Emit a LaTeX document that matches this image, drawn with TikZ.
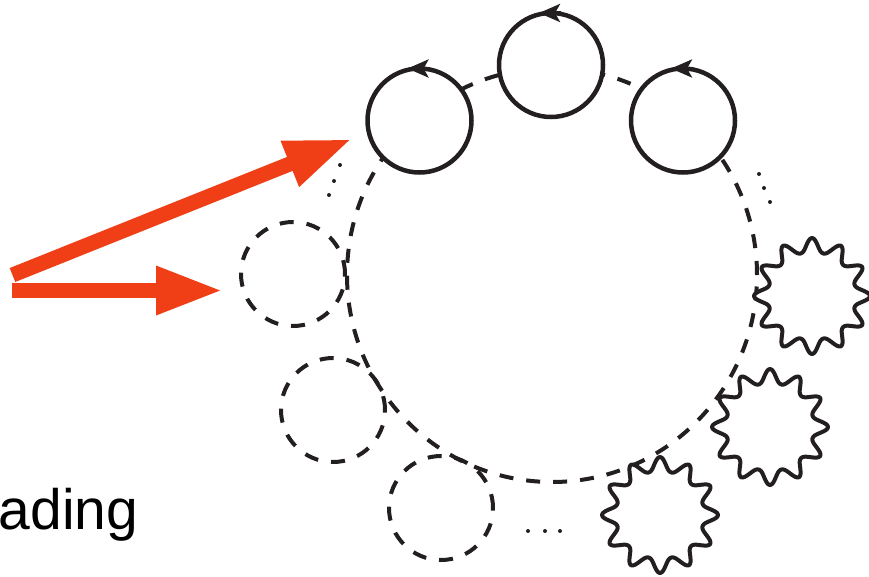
\documentclass[tikz,border=0pt]{standalone}
\usepackage{fontspec}
\setmainfont{Liberation Sans}
\usetikzlibrary{arrows.meta}
\definecolor{ink}{HTML}{231F20}
\definecolor{redarrow}{RGB}{240,62,22}
\begin{document}
\begin{tikzpicture}[x=1pt,y=1pt,
  dashline/.style={draw=ink, line width=4pt, dash pattern=on 14pt off 13pt},
  solidc/.style={circle, draw=ink, line width=4.5pt, fill=white, minimum size=104pt, inner sep=0pt, outer sep=0pt},
  ghostc/.style={circle, dashline, minimum size=104pt, inner sep=0pt, outer sep=0pt},
  spin/.style={draw=ink, line width=3.5pt, -{Stealth[length=21pt, width=18pt, inset=5pt]}},
  bigarrow/.style={draw=redarrow, line width=15pt, -{Triangle[length=67pt, width=45pt]}},
  dotmark/.style={circle, fill=ink, minimum size=4pt, inner sep=0pt},
  wstar/.pic={\draw[ink, line width=4pt, fill=white, line join=round]
     plot[domain=0:360, samples=241]
     (\x:{44+14*(0.5*(1+cos(12*(\x-90)))/2+0.5*((1+cos(12*(\x-90)))/2)^2)}) -- cycle;}
]
\useasboundingbox (0,0) rectangle (869,-576);

% big dashed ring
\node[draw=none, inner sep=0pt] (ring) at (552,-275) {};
\draw[dashline] (ring) ellipse [x radius=205, y radius=207];

% dashed (empty) circles
\node[ghostc] (g1) at (293,-274) {};
\node[ghostc] (g2) at (333,-410) {};
\node[ghostc] (g3) at (441,-508) {};

% wavy stars
\pic (st1) at (812,-296) {wstar};
\pic (st2) at (770,-427) {wstar};
\pic (st3) at (660,-515) {wstar};

% solid spinning circles
\node[solidc] (s1) at (419.5,-120.5) {};
\node[solidc] (s2) at (551,-65) {};
\node[solidc] (s3) at (683,-120.5) {};
\foreach \s in {s1,s2,s3}{
  \draw[spin] ([xshift=10pt]\s.north) -- ([xshift=-12pt]\s.north);
}

% dots
\node[dotmark] (dl1) at (340,-165) {};
\node[dotmark] (dl2) at (334,-181) {};
\node[dotmark] (dl3) at (329,-195) {};
\node[dotmark] (dr1) at (759,-174) {};
\node[dotmark] (dr2) at (764,-188) {};
\node[dotmark] (dr3) at (770,-202) {};
\node[dotmark] (db1) at (528,-531) {};
\node[dotmark] (db2) at (545,-531) {};
\node[dotmark] (db3) at (560,-531) {};

% red arrows
\coordinate (a1s) at (12.5,-275);
\coordinate (a1e) at (352,-139);
\coordinate (a2s) at (12,-290.5);
\coordinate (a2e) at (223,-290.5);
\draw[bigarrow] (a1s) -- (a1e);
\draw[bigarrow] (a2s) -- (a2e);

% text
\node[anchor=base west, inner sep=0pt, text=black, font=\fontsize{57}{60}\selectfont] (txt) at (-1.5,-529) {ading};
\end{tikzpicture}
\end{document}
